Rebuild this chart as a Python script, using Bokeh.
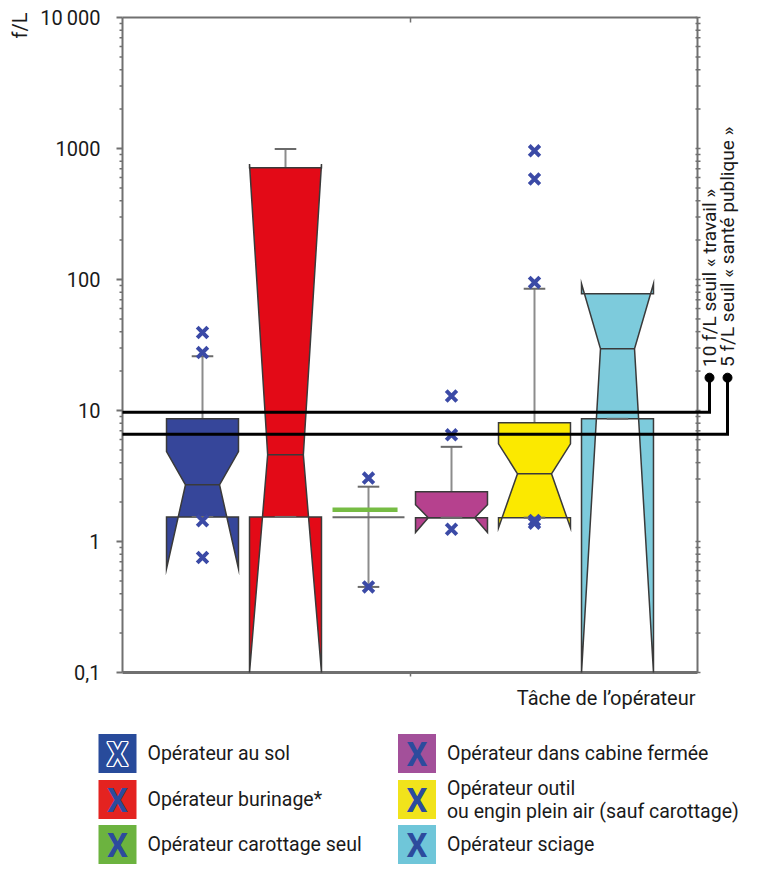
import math
from bokeh.plotting import figure
from bokeh.models import Range1d, LinearScale
from bokeh.embed import file_html
from bokeh.resources import INLINE
from bokeh.core.properties import value

# ---------------- data ----------------
categories = ["Opérateur au sol", "Opérateur burinage*", "Opérateur carottage seul",
              "Opérateur dans cabine fermée",
              "Opérateur outil\nou engin plein air (sauf carottage)", "Opérateur sciage"]
q1 = [1.54, 1.54, 1.53, 1.52, 1.52, 8.64]
q3 = [8.64, 713, 1.53, 2.40, 8.06, 77.8]
median = [2.71, 4.59, 1.75, 1.52, 3.29, 29.6]
notch_lo = [0.62, 0.1, None, 1.17, 1.27, 0.1]
notch_hi = [4.86, 760, None, 1.91, 5.57, 92.7]
whisker_lo = [1.54, 1.54, 0.45, 1.52, 1.52, 8.64]
whisker_hi = [26, 990, 2.62, 5.28, 85, 77.8]
outliers = [[39.4, 27.7, 1.44, 0.755], [], [3.05, 0.45], [12.9, 6.52, 1.24],
            [960, 585, 95, 1.45, 1.38], []]
thresholds = [9.7, 6.6]
threshold_labels = ["10 f/L seuil « travail »", "5 f/L seuil « santé publique »"]
y_ticks = [0.1, 1, 10, 100, 1000, 10000]
y_tick_labels = ["0,1", "1", "10", "100", "1000", "10\u2009000"]
y_label = "f/L"
x_label = "Tâche de l\u2019opérateur"

# ---------------- styles / layout ----------------
box_fill = ["#36469a", "#e30a17", "#76bc44", "#b6418e", "#fbe900", "#7dcbdc"]
swatch_fill = ["#284b9b", "#e42320", "#6cb33f", "#a3509a", "#f1e31b", "#6fc6d9"]
notch_w = [0.41, 0.43, 0.41, 0.56, 0.41, 0.41]
box_w = 0.867
cap_w = 0.26
edge = "#3a3a3a"
axis_col = "#707070"
whisk_col = "#8c8c8c"
x_col = "#3b4aa6"
txt_col = "#1a1a1a"
FONT = "Roboto"

PX_W, PX_H = 741, 864
TOP, DEC = 17.0, 131.0


def X(px):
    return 1 + (px - 202) / 83.0


def Y(py):
    return 10 ** (4 - (py - TOP) / DEC)


AX_L, AX_R, AX_MID = 122, 697, 410
thr_x = [709, 727]
dot_y = 17.8
label_y = 21.5

p = figure(width=PX_W, height=PX_H, x_range=Range1d(X(0), X(PX_W)),
           y_range=Range1d(Y(PX_H), Y(0)), y_axis_type="log",
           x_axis_location=None, y_axis_location=None,
           output_backend="svg", toolbar_location=None, min_border=0)
p.grid.visible = False
p.outline_line_color = None
p.background_fill_color = "white"
p.extra_x_ranges = {"px": Range1d(0, PX_W)}
p.extra_y_ranges = {"px": Range1d(PX_H, 0)}
p.extra_y_scales = {"px": LinearScale()}

# ---- axes / frame (positions in px, values on the log scale) ----
minor = [m * 10.0 ** k for k in range(-1, 4) for m in range(2, 10)]
p.segment(x0=[AX_L, AX_R, AX_L, AX_L], y0=[0.1, 0.1, 10000, 0.1],
          x1=[AX_L, AX_R, AX_R, AX_R], y1=[10000, 10000, 10000, 0.1],
          x_range_name="px", line_color=axis_col, line_width=[2, 2, 2, 3])
p.segment(x0=[AX_L - 6] * len(y_ticks), y0=y_ticks, x1=[AX_L] * len(y_ticks), y1=y_ticks,
          x_range_name="px", line_color=axis_col, line_width=2)
p.segment(x0=[AX_L - 3] * len(minor), y0=minor, x1=[AX_L] * len(minor), y1=minor,
          x_range_name="px", line_color=axis_col, line_width=1.5)
rt = y_ticks + minor
p.segment(x0=[AX_R - 2] * len(rt), y0=rt, x1=[AX_R + 3] * len(rt), y1=rt,
          x_range_name="px", line_color=axis_col, line_width=1.5)
p.segment(x0=[AX_MID, AX_MID], y0=[10000, 0.1], x1=[AX_MID, AX_MID],
          y1=[Y(TOP + 5), Y(TOP + 655 + 4)], x_range_name="px",
          line_color=axis_col, line_width=1.5)
p.text(x=[AX_L - 22] * len(y_ticks), y=y_ticks, text=y_tick_labels, x_range_name="px",
       text_align="right", text_baseline="middle", text_font=value(FONT),
       text_font_size="20px", text_color=txt_col)
p.text(x=[19], y=[25], text=[y_label], x_range_name="px", y_range_name="px",
       angle=math.pi / 2, text_align="center", text_baseline="middle",
       text_font=value(FONT), text_font_size="20px", text_color=txt_col)
p.text(x=[AX_R - 2], y=[697], text=[x_label], x_range_name="px", y_range_name="px",
       text_align="right", text_baseline="middle", text_font=value(FONT),
       text_font_size="20px", text_color=txt_col)

# ---- whiskers ----
wx0, wy0, wx1, wy1 = [], [], [], []
cx0, cy, cx1 = [], [], []
for i in range(len(categories)):
    c = i + 1
    if whisker_hi[i] > q3[i]:
        wx0.append(c); wy0.append(q3[i]); wx1.append(c); wy1.append(whisker_hi[i])
        cx0.append(c - cap_w / 2); cx1.append(c + cap_w / 2); cy.append(whisker_hi[i])
    if whisker_lo[i] < q1[i]:
        wx0.append(c); wy0.append(q1[i]); wx1.append(c); wy1.append(whisker_lo[i])
    if whisker_lo[i] < q3[i] or i == 2:
        cx0.append(c - cap_w / 2); cx1.append(c + cap_w / 2); cy.append(whisker_lo[i])
p.segment(x0=wx0, y0=wy0, x1=wx1, y1=wy1, line_color=whisk_col, line_width=2)

# ---- notched boxes ----
xs, ys, cols = [], [], []
mx0, mx1, my = [], [], []
for i in range(len(categories)):
    if notch_lo[i] is None:
        continue
    c = i + 1
    L, R = c - box_w / 2, c + box_w / 2
    nL, nR = c - notch_w[i] / 2, c + notch_w[i] / 2
    xs.append([L, R, R, nR, R, R, L, L, nL, L])
    ys.append([q3[i], q3[i], notch_hi[i], median[i], notch_lo[i], q1[i], q1[i],
               notch_lo[i], median[i], notch_hi[i]])
    cols.append(box_fill[i])
    mx0.append(nL); mx1.append(nR); my.append(median[i])
p.patches(xs, ys, fill_color=cols, line_color=edge, line_width=1.5, line_join="miter")
p.segment(x0=mx0, y0=my, x1=mx1, y1=my, line_color=edge, line_width=1.5)

# collapsed box (carottage seul)
g = 2
p.segment(x0=[g + 1 - box_w / 2], y0=[q1[g]], x1=[g + 1 + box_w / 2], y1=[q1[g]],
          line_color="#6a6a6a", line_width=2)
p.segment(x0=[g + 1 - box_w / 2], y0=[median[g]], x1=[g + 1 + 0.35], y1=[median[g]],
          line_color=box_fill[g], line_width=4.5)

p.segment(x0=cx0, y0=cy, x1=cx1, y1=cy, line_color="#6a6a6a", line_width=2)

# ---- outliers ----
ox, oy = [], []
for i, vals in enumerate(outliers):
    for v in vals:
        ox.append(i + 1); oy.append(v)
p.scatter(ox, oy, marker="x", size=15, line_width=4, line_color=x_col)

# ---- threshold lines ----
for t, tx, lab in zip(thresholds, thr_x, threshold_labels):
    p.line([AX_L, tx, tx], [t, t, dot_y], x_range_name="px", line_color="black",
           line_width=3, line_join="miter")
    p.scatter([tx], [dot_y], x_range_name="px", size=9, color="black")
    p.text([tx], [label_y], text=[lab], x_range_name="px", angle=math.pi / 2,
           text_align="left", text_baseline="middle", text_font=value(FONT),
           text_font_size="19px", text_color=txt_col)

# ---------------- legend (px coordinates) ----------------
col_x = [117, 416.5]
row_y = [753, 799, 844]
sx, sy = [], []
for i in range(len(categories)):
    sx.append(col_x[i // 3]); sy.append(row_y[i % 3])
p.rect(sx, sy, width=38, height=39, x_range_name="px", y_range_name="px",
       fill_color=swatch_fill, line_color=None)
offs = [(-1.3, 0), (1.3, 0), (0, -1.3), (0, 1.3), (-1, -1), (1, 1), (-1, 1), (1, -1)]
xkw = dict(x_range_name="px", y_range_name="px", text_align="center",
           text_baseline="middle", text_font=value(FONT), text_font_style="bold",
           text_font_size="33px")
p.text([sx[0]] * len(offs), [sy[0] + 1] * len(offs), text=["X"] * len(offs),
       x_offset=[o[0] for o in offs], y_offset=[o[1] for o in offs],
       text_color="white", **xkw)
p.text([sx[0]], [sy[0] + 1], text=["X"], text_color=swatch_fill[0], **xkw)
p.text(sx[1:], [v + 1 for v in sy[1:]], text=["X"] * 5, text_color="#2c4b9d", **xkw)

tx_, ty_, tt_ = [], [], []
for i, cat in enumerate(categories):
    lines = cat.split("\n")
    for j, ln in enumerate(lines):
        tx_.append(col_x[i // 3] + 30)
        ty_.append(row_y[i % 3] + (j - (len(lines) - 1) / 2) * 23)
        tt_.append(ln)
p.text(tx_, ty_, text=tt_, x_range_name="px", y_range_name="px", text_align="left",
       text_baseline="middle", text_font=value(FONT), text_font_size="19.5px",
       text_color=txt_col)

open("out.html", "w").write(file_html(p, INLINE))
